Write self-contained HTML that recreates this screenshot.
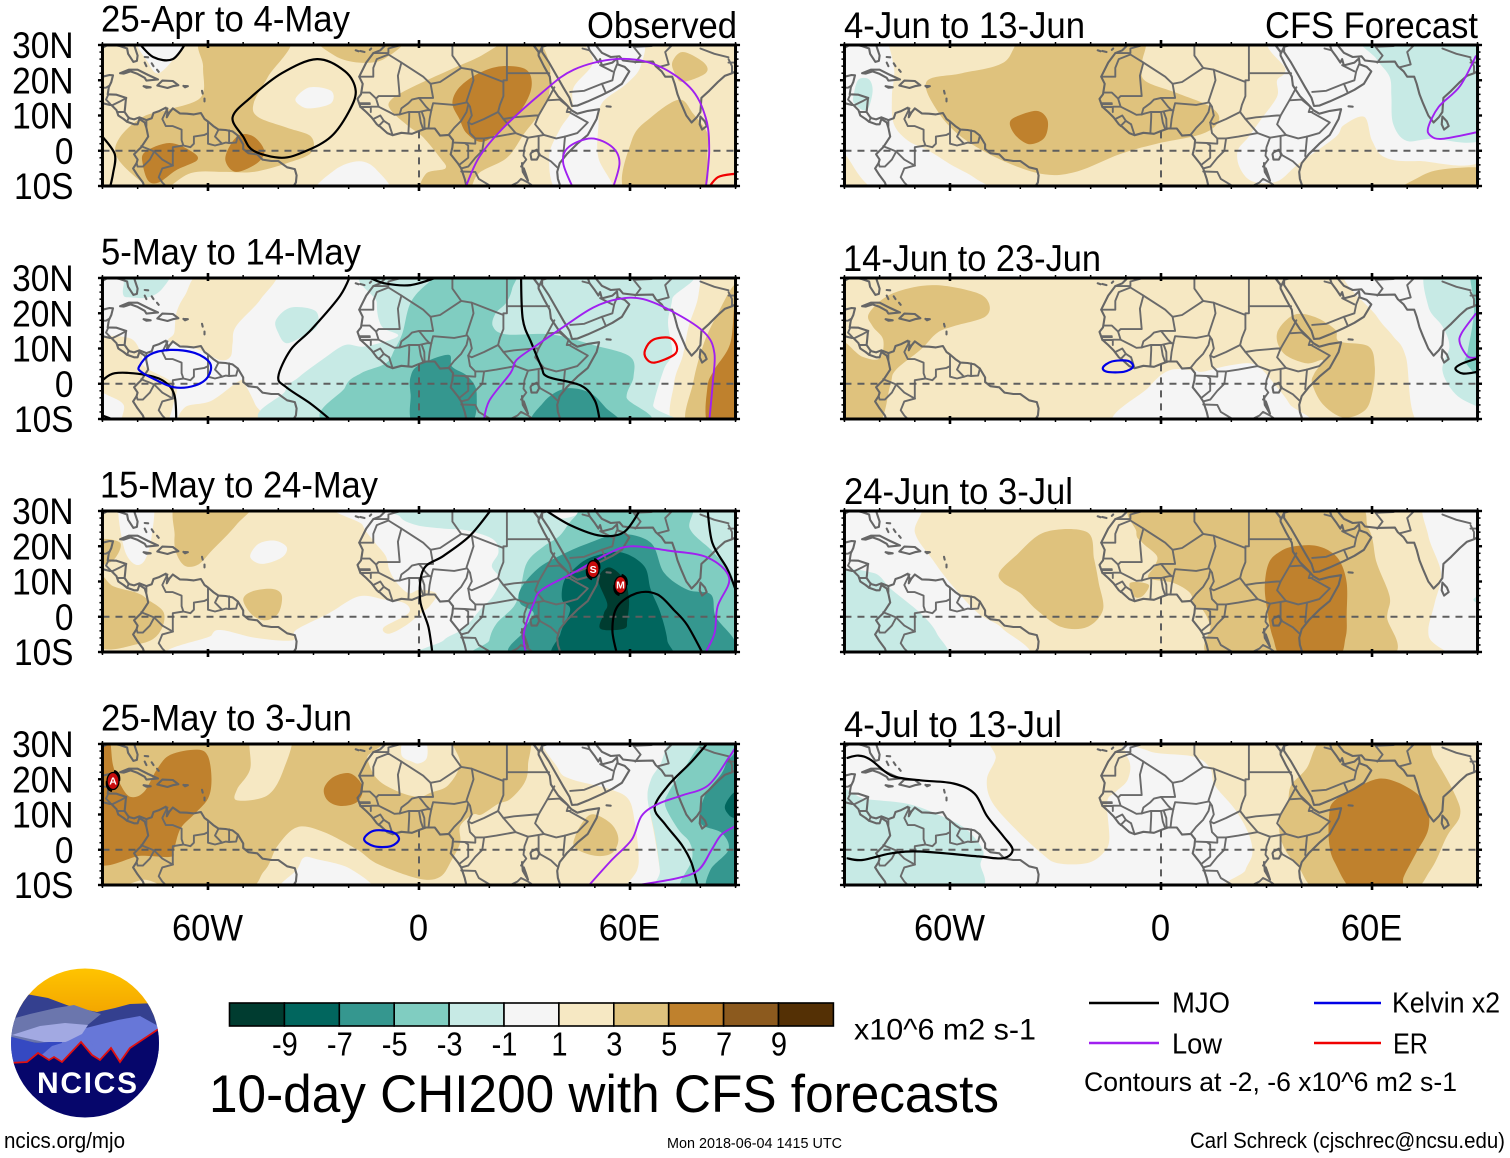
<!DOCTYPE html>
<html lang="en">
<head>
<meta charset="utf-8">
<title>10-day CHI200 with CFS forecasts</title>
<style>
html,body{margin:0;padding:0;background:#fff;width:1510px;height:1158px;overflow:hidden}
svg{display:block}
text{font-family:"Liberation Sans",sans-serif;fill:#000}
</style>
</head>
<body>
<svg id="figure" xmlns="http://www.w3.org/2000/svg" width="1510" height="1158" viewBox="0 0 1510 1158">
  <rect width="1510" height="1158" fill="#fff"/>
  <g id="panels"></g>

  <g font-size="37">
    <text x="101" y="31.5" textLength="249" lengthAdjust="spacingAndGlyphs">25-Apr to 4-May</text>
    <text x="587" y="38" textLength="150" lengthAdjust="spacingAndGlyphs">Observed</text>
    <text x="101" y="264.5" textLength="260" lengthAdjust="spacingAndGlyphs">5-May to 14-May</text>
    <text x="100" y="497.5" textLength="278" lengthAdjust="spacingAndGlyphs">15-May to 24-May</text>
    <text x="101" y="730.5" textLength="251" lengthAdjust="spacingAndGlyphs">25-May to 3-Jun</text>
    <text x="844" y="38" textLength="241" lengthAdjust="spacingAndGlyphs">4-Jun to 13-Jun</text>
    <text x="1265" y="38" textLength="213" lengthAdjust="spacingAndGlyphs">CFS Forecast</text>
    <text x="843" y="271" textLength="258" lengthAdjust="spacingAndGlyphs">14-Jun to 23-Jun</text>
    <text x="844" y="504" textLength="229" lengthAdjust="spacingAndGlyphs">24-Jun to 3-Jul</text>
    <text x="844" y="737" textLength="218" lengthAdjust="spacingAndGlyphs">4-Jul to 13-Jul</text>
  </g>

  <g id="colorbar"></g>
  <text x="854" y="1039.5" font-size="30" textLength="182" lengthAdjust="spacingAndGlyphs">x10^6 m2 s-1</text>
  <text x="209" y="1112" font-size="53" textLength="790" lengthAdjust="spacingAndGlyphs">10-day CHI200 with CFS forecasts</text>

  <g font-size="29">
    <line x1="1089" y1="1003" x2="1159" y2="1003" stroke="#000" stroke-width="2.4"/>
    <text x="1172" y="1012.5" textLength="58" lengthAdjust="spacingAndGlyphs">MJO</text>
    <line x1="1314" y1="1003" x2="1381" y2="1003" stroke="#0000e6" stroke-width="2.4"/>
    <text x="1392" y="1012.5" textLength="108" lengthAdjust="spacingAndGlyphs">Kelvin x2</text>
    <line x1="1089" y1="1043" x2="1159" y2="1043" stroke="#a020f0" stroke-width="2.4"/>
    <text x="1172" y="1053.5" textLength="50" lengthAdjust="spacingAndGlyphs">Low</text>
    <line x1="1314" y1="1043" x2="1381" y2="1043" stroke="#f00000" stroke-width="2.4"/>
    <text x="1393" y="1053.5" textLength="35" lengthAdjust="spacingAndGlyphs">ER</text>
    <text x="1084" y="1091" font-size="27" textLength="373" lengthAdjust="spacingAndGlyphs">Contours at -2, -6 x10^6 m2 s-1</text>
  </g>

  <text x="4" y="1148" font-size="22" textLength="121" lengthAdjust="spacingAndGlyphs">ncics.org/mjo</text>
  <text x="667" y="1148" font-size="15" textLength="175" lengthAdjust="spacingAndGlyphs">Mon 2018-06-04 1415 UTC</text>
  <text x="1190" y="1148" font-size="22" textLength="315" lengthAdjust="spacingAndGlyphs">Carl Schreck (cjschrec@ncsu.edu)</text>

  <g>
    <clipPath id="logo-clip"><ellipse cx="85" cy="1043" rx="74" ry="74.5"/></clipPath>
    <linearGradient id="logo-sky-gradient" x1="0" y1="0" x2="0" y2="1">
      <stop offset="0" stop-color="#ffc400"/>
      <stop offset="1" stop-color="#f2a300"/>
    </linearGradient>
    <g clip-path="url(#logo-clip)">
      <rect x="10" y="968" width="150" height="50" fill="url(#logo-sky-gradient)"/>
      <polygon points="8,1005 26,994 48,998 72,1007 97,1012 115,1008 130,1004 160,1003 160,1070 8,1070" fill="#34408f"/>
      <polygon points="8,1040 8,1020 30,1014 56,1008 74,1005 88,1010 101,1014 84,1028 60,1045" fill="#6b76ad"/>
      <polygon points="40,1050 86,1028 118,1020 140,1016 160,1027 160,1075 40,1075" fill="#6777d8"/>
      <polygon points="8,1036 36,1043 62,1041 60,1070 8,1070" fill="#3549c2"/>
      <polygon points="12,1035 40,1026 65,1023 88,1025 82,1034 66,1042 44,1042" fill="#a2a9e2"/>
      <polygon points="36,1060 52,1046 72,1040 90,1040 100,1062" fill="#6777d8"/>
      <polygon points="8,1063 27,1062 38,1053 49,1060 54,1057 62,1062 81,1042 92,1055 100,1060 111,1048 120,1062 130,1048 160,1028 160,1120 8,1120" fill="#06066b"/>
      <polyline points="8,1063 27,1062 38,1053 49,1060 54,1057 62,1062 81,1042 92,1055 100,1060 111,1048 120,1062 130,1048 160,1028" fill="none" stroke="#e01010" stroke-width="1.8"/>
    </g>
    <text x="37" y="1093" font-size="30" font-weight="bold" textLength="100" lengthAdjust="spacing" style="fill:#fff">NCICS</text>
  </g>
</svg>

<script>
// ---------- colour scale ----------
const colorLabels = ['-9','-7','-5','-3','-1','1','3','5','7','9'];
const levelKeys = [-10,-8,-6,-4,-2,0,2,4,6,8,10];
const levelColors = ['#003c30','#01665e','#35978f','#80cdc1','#c7eae5','#f5f5f5','#f6e8c3','#dfc27d','#bf812d','#8c5a1e','#543005'];

// ---------- axes ----------
const yTickLats = [30,20,10,0,-10];
const yTickLabels = ['30N','20N','10N','0','10S'];
const xTickLons = [-60,0,60];
const xTickLabels = ['60W','0','60E'];

// ---------- map outlines (lon, lat) ----------
const coastLines = [
 [[-90,29.2],[-88,30.3],[-85,29.7],[-83,29],[-82.7,27.5],[-81.2,25.2],[-80.2,25.5],[-80,27],[-81,30],[-81,31]],
 [[-90,21],[-88,21.5],[-87,21.4],[-87.5,19.5],[-88.2,18],[-88.5,16],[-86,15.9],[-83.3,15],[-83.6,12],[-83.7,11],[-82.5,9.3],[-81,8.9],[-79.5,9.5],[-77.5,8.7],[-76,9.2],[-75.5,10.7],[-74,11.2],[-72,12.2],[-71.5,11],[-71.7,9.5],[-71,10.8],[-70,12],[-68,10.6],[-66,10.5],[-64,10.3],[-62,10.7],[-61,9],[-60,8.3],[-58.5,7],[-57,6],[-55,5.9],[-53,5.5],[-51.5,4.3],[-50,1.8],[-50,0.5],[-48.5,-0.7],[-46,-1],[-44.5,-2.5],[-42,-2.9],[-40,-2.9],[-37.5,-4.7],[-35.3,-5.2],[-34.8,-7],[-35,-9],[-36,-10.5],[-36.5,-11]],
 [[-90,13.5],[-88,13],[-87.5,13],[-86,11.5],[-85.5,10],[-84,9],[-83,8.2],[-81,7.5],[-80,7.5],[-79.5,9],[-78,8],[-77.5,6.5],[-77,4],[-78,2.5],[-79,1],[-80,0],[-81,-1],[-80,-2.5],[-80.3,-3.5],[-81.3,-5],[-80,-7],[-78.5,-9],[-77.8,-11]],
 [[-85,22],[-82.5,23],[-80,23],[-77,21.5],[-74.2,20.2],[-77.5,19.9],[-78,20.7],[-80,21.8],[-82,22.5],[-84,21.9],[-85,22]],
 [[-74.4,18.5],[-73,19.9],[-70,19.8],[-68.4,18.6],[-70,18.3],[-71.5,17.8],[-74.4,18.5]],
 [[-78.3,18.3],[-76.3,18],[-77.5,17.9],[-78.3,18.3]],
 [[-67,18.4],[-65.7,18.3],[-66.5,18],[-67,18.4]],
 [[-78,26.6],[-77,26.5]],[[-78,25],[-77.5,24]],[[-76,24.8],[-75.5,24]],[[-74.5,23],[-74,22.4]],
 [[-61.7,17],[-61.5,16.2]],[[-61,14.8],[-61,14]],
 [[-10,31],[-9.5,30],[-11,28.5],[-13,27.7],[-15,25],[-17,21],[-16,19],[-16.5,16],[-17.5,14.7],[-16.7,12.5],[-15,11],[-13.5,9.5],[-12,7.5],[-11,6.8],[-9,5],[-7.5,4.4],[-5,5.1],[-2,4.8],[0,5.6],[2,6.3],[4.5,6.3],[6,4.3],[8.5,4.5],[9.7,3],[9.5,1],[9,-1],[11,-3.5],[12,-5],[13,-8],[13.7,-11]],
 [[32.5,31],[32.5,30],[34,28],[34,27],[35.5,24],[37.2,21],[37.5,18.5],[39.5,15.5],[42,13],[43.3,11.5],[45,10.5],[48,11.3],[51.2,11.8],[50.5,9],[48,4.5],[45,2],[42,-1],[40,-3.5],[39.3,-6],[39.5,-8],[40.5,-11]],
 [[32.5,30],[34.2,27.8],[35,29.5],[35,28],[37,25],[39,21.5],[41,18],[42.8,15],[43.5,12.7],[45,12.8],[48,14],[52,15.8],[55,17.3],[57.7,19],[59.8,22.5],[58.5,23.8],[56.5,24.5],[56.3,26.2],[55,25],[52,24.2],[51.5,26],[51,25],[50,26.5],[48.5,28.5],[48,30],[50,30.2],[52,27.8],[54.5,26.6],[57,26.8],[58,25.6],[61.5,25.2],[66.5,25.3],[67.3,24],[69,22.5],[70,21],[72,21],[72.7,19],[73.5,16],[74.5,13.5],[76,10],[77.5,8],[79,9.5],[80,11],[80.3,15],[82.5,17],[85,19.5],[87,21.3],[89,22],[90,22.5]],
 [[80,9.7],[81.3,8.3],[81.8,7],[80.5,6],[79.8,7.5],[80,9.7]],
 [[53.3,12.6],[54.5,12.5]],
 [[-18,28.5],[-17.2,28.2]],[[-16.7,28.3],[-15.5,28]],[[-14,28.6],[-13.6,29]],
 [[32,-0.5],[33.5,0.3],[34.3,-1],[33.5,-2.5],[32,-2.5],[31.7,-1],[32,-0.5]],
 [[29.3,-3.5],[29.5,-6],[31,-8.5],[30.5,-7],[29.8,-5]]
];
const borderLines = [
 [[-71.5,12],[-72.5,10],[-73,9],[-72,7],[-70,7],[-67.5,6],[-67.5,3],[-67,1.5],[-65,1],[-64,2],[-64,4],[-61,4.5],[-60,5],[-60,8]],
 [[-60,5],[-60,2],[-58,1.5],[-56,2],[-55,2.3],[-54,2.2],[-52,2.3],[-51.5,4.3]],
 [[-57,6],[-58,4],[-56,2]],[[-54,5.8],[-54,2.2]],
 [[-67,1.5],[-70,1],[-70,-4.2]],
 [[-79,1.3],[-77,0.5],[-75.3,-0.2],[-73,-2.5],[-70,-4.2]],
 [[-80.3,-3.5],[-80,-4.5],[-78.5,-4.5],[-76.5,-2.5],[-75.3,-0.2]],
 [[-70,-4.2],[-73,-5],[-74,-7.5],[-73,-9],[-72,-10],[-70.5,-11]],
 [[-77.5,8.7],[-77.5,7]],
 [[-83.7,11],[-85.7,11]],[[-82.5,9.5],[-83,8.2]],
 [[-83.2,15],[-85,14],[-87,13]],[[-88.3,16],[-89,14.5],[-87.8,13.3]],[[-88,18.5],[-89,17.9],[-91,17.9]],
 [[-13,27.7],[-8.7,27.7],[-8.7,29],[-5,30],[-2,31]],
 [[-17,21],[-13,21],[-13,23.5],[-12,26],[-8.7,27.3],[-5,25],[-6,21.3],[-5.5,15.5],[-9,15.5],[-11.5,15.5],[-12.2,14.8],[-14,16.5],[-16,16.5]],
 [[-5,25],[1.2,21],[3.3,19],[6,19.5],[12,23.5],[9.5,27],[9.5,30],[10,31]],
 [[12,23.5],[15,23],[24,19.5],[24,20],[25,20],[25,31]],
 [[25,22],[37,22]],
 [[24,19.5],[24,15.5],[23,13],[22.5,11]],
 [[15,23],[15.5,20],[13.5,14],[14.5,12.5],[15,10],[14,8],[15,7.5],[18.5,9],[22.5,11],[24,9],[27.5,5]],
 [[14,8],[14.5,5],[16,3.5],[18.5,3.5],[22,4],[27.5,5],[31,3.7],[34,4.2],[35.5,4.5]],
 [[24,9],[27,9.5],[33,10],[34,10]],
 [[35.5,4.5],[33,7.5],[34,10],[36.5,14.3],[38.5,18]],
 [[36.5,14.3],[40,14.5],[42.5,12.5],[42,11],[43,11]],
 [[43,10.8],[48,8],[45,5],[41.5,4],[41,-1.5]],
 [[35.5,4.5],[39,3.5],[41.5,4]],
 [[34,4.2],[34,1],[34,-1],[37.5,-3],[39.3,-4.7]],
 [[31,3.7],[30,1],[29.7,-1.4],[30.5,-2.5],[29,-4.5]],
 [[34.5,-11.5],[40.5,-10.5]],
 [[22,-11],[24,-11],[28,-9],[29,-8],[31,-9],[34.5,-11.5]],
 [[12,-5.9],[16,-6],[17,-8],[22,-11]],
 [[12,-5],[14,-4.5],[16,-2],[18,0],[18.5,3.5]],
 [[9.8,2.3],[13,2.2],[14,1.5],[14,-2],[11.5,-4]],
 [[13,2.2],[16,2],[16,3.5]],
 [[8.5,4.6],[10,6.5],[12,8.5],[13.5,11],[14,13]],
 [[3.5,11.5],[4,13.5],[10,13],[13.5,13.7]],
 [[2.7,6.3],[3,9],[3.5,11.5]],
 [[1.6,6.2],[1.5,9],[0.8,11]],
 [[1.2,6.1],[0.5,8],[0,11]],
 [[-3,5],[-2.8,9.5],[-2.8,11]],
 [[-5.5,10.3],[-3,11],[0,11],[2.3,11.5],[3.5,11.5]],
 [[-5.5,10.3],[-5,12],[-3,13.5],[-2,14.5],[0,15],[2,12.5],[3,11.5]],
 [[3.3,19],[4,15],[0,15]],
 [[-12.2,14.8],[-11.5,12.5],[-8.5,11],[-7,10.2],[-5.5,10.3]],
 [[-7.5,4.4],[-8.5,7.5]],
 [[-11.5,7],[-10,8.5],[-8.5,7.5]],
 [[-13,9],[-11,10],[-10,8.5]],
 [[-16.8,13.5],[-14,13.5]],[[-16.8,13.2],[-14,13.2]],
 [[-16.7,12.4],[-13.7,12.4],[-13.7,11]],[[-13.7,12.5],[-11.5,12.5]],
 [[35,29.5],[37,30],[39,32]],
 [[43,16.7],[47,17],[52,19],[55,20],[55.5,22.5],[56.3,24.5]],
 [[53,16.7],[52,19]],
 [[48,30],[47.5,31]],
 [[61.5,25],[63,27],[61,29.5],[61,31]],
 [[68,23.7],[71,24.5],[70,28],[73,31]],
 [[80,29],[84,27.5],[88,26.5]],
 [[88,26],[89,24],[89,22]],[[90,25],[88,25]],
 [[61,29.5],[66,29.7],[70,31]],
 [[46.5,29],[48.5,28.5]],[[51.5,24.3],[55,22.5]]
];

// ---------- CHI200 shading: [level, outline of [lon, lat]] ----------
const shadeP1 = [
 [4,[[-61,32],[-61.4,23.8],[-62,15.2],[-71.7,11.6],[-78.5,9.6],[-85,3.9],[-85.9,-1.8],[-78.5,-9.1],[-72.8,-11],[-64.8,-6.3],[-55.2,-6],[-47,-6],[-37.5,-3.5],[-30.7,-0.6],[-30.7,4],[-37.5,6.5],[-45.8,9.6],[-47,13.5],[-43,20.9],[-37,32]]],
 [4,[[-28,32],[-24,27],[-17,25],[-10,26],[-5,32]]],
 [4,[[-8,14.4],[-2,18],[10,23.5],[17,26.6],[25,31],[33,32],[37,25],[37,16.4],[35,11.5],[30,5],[25,-2],[17,-6.4],[13,-12],[1,-12],[2,-6.5],[7.5,-5],[6,-2],[1,4],[-3,7],[-8,11.5]]],
 [4,[[72,25],[75,28],[81,25],[81.5,22],[75,19.5],[73,21.5]]],
 [4,[[59,-12],[60.5,3],[66,9.5],[74,14.5],[78,10.5],[82,5],[82,0],[80,-12]]],
 [6,[[-78,-0.4],[-71,2.2],[-65,0],[-63,-2.6],[-69,-5.5],[-74,-9],[-77,-8.5],[-78.5,-4]]],
 [6,[[-55,-3],[-54,1],[-51,4.5],[-47,4],[-44,0],[-46,-3.5],[-52,-6]]],
 [6,[[9.5,13.5],[11.5,18],[17,22],[23.5,24],[30.5,23],[32,18],[29,11.5],[23.5,6],[18,2.5],[13.5,5],[11.5,9]]],
 [0,[[-35,15],[-31,18],[-25,17],[-25,13.5],[-31,12],[-34,13]]],
 [0,[[-80,32],[-77,25],[-74,22],[-69,27],[-66,32]]],
 [0,[[-29,-12],[-24,-5.5],[-17,-3],[-12,-5.5],[-9,-12]]],
 [0,[[47.5,32],[49.5,25],[44,18],[43.5,11.5],[40,6],[37,-2],[40,-12],[55,-12],[51,-2],[51,7],[52,13.5],[59,19],[63,24],[63,32]]]
];
const shadeP2 = [
 [2,[[-61,32],[-66.6,25],[-69,20],[-69.6,14.4],[-71,12],[-62.5,9.6],[-56.6,6.7],[-53.6,7.7],[-53,11.5],[-52,16.3],[-45,24],[-41,32]]],
 [2,[[-66.6,-12],[-66.6,-6.7],[-59,-4.8],[-50.7,1],[-49,-1],[-46.6,-5.8],[-44,-12]]],
 [2,[[-92,12],[-82.5,13],[-79,8.7],[-78,4.8],[-69.6,0],[-69.6,-4.8],[-73,-12],[-84,-12],[-84,-6],[-89,-3],[-92,-1]]],
 [2,[[82,33],[79,23],[76.6,16],[75,8],[72.5,0],[73,-12],[93,-12],[93,33]]],
 [4,[[89.6,28],[85,20],[81,11.5],[78,0.5],[76.6,-12],[93,-12],[93,28]]],
 [6,[[90,24],[88.5,11.5],[84,4],[82,-1],[82.5,-12],[93,-12],[93,24]]],
 [-2,[[-84,25],[-84,28],[-82.5,32],[-71,32],[-73,27],[-77,24.5],[-82,24.5]]],
 [-2,[[-40.7,18],[-36.5,21.6],[-29.5,20.7],[-29,16.3],[-33,13.5],[-37.7,11.5],[-40,14.4]]],
 [-2,[[-10.6,33],[-12,23],[-10.6,16.3],[-6,13.5],[-15.3,10.6],[-21,11],[-27,7.2],[-34,2],[-38,-2],[-38,-12],[66,-12],[66.6,-6],[69.6,4],[72,8.7],[70.8,17.3],[72,24],[72.5,33]]],
 [-4,[[27,33],[26.5,27],[24.8,23],[21.8,20],[21,16.3],[24.8,14],[37.7,14],[49.5,11],[60,7.7],[61,2],[59,-3.8],[60.7,-12],[-22.4,-12],[-21,-1],[-16.5,3],[-9.4,5.8],[-7,9.6],[-4.7,14.4],[-2.4,23],[2.4,28.4],[9.4,33]]],
 [-6,[[-2.4,2],[0,5.3],[8.3,8.2],[9.4,4.8],[14,2],[16.4,-2.9],[14,-12],[-1,-12],[-2.4,-3]]],
 [-6,[[33,-12],[35.4,-5.3],[41.3,-1.4],[48.3,-2.4],[53,-6.7],[56.6,-12]]]
];
const shadeP3 = [
 [0,[[-85,33],[-84,20],[-81,15],[-78,16],[-76,23],[-76,33]]],
 [0,[[-48,17],[-45.6,20.7],[-41,21.6],[-37.6,19.7],[-39,16.8],[-44.6,15]]],
 [0,[[-61,-12],[-59,-5.3],[-56,-3.8],[-46.4,-6],[-36,-6.7],[-35,-3.8],[-25.6,1],[-17,5.8],[-9.5,4.8],[-4,3.8],[-3,1],[-10,-3],[-8.5,-4.8],[-3.8,-2.5],[0.5,1],[3,3],[5,6.5],[0.3,7.7],[-3,6.7],[-6.6,10],[-8.5,13.5],[-9.5,17.3],[-13,21.6],[-16,26],[-17.5,33],[93,33],[93,-12]]],
 [4,[[-68,33],[-47.4,33],[-52,26],[-58.7,19],[-62.6,14.9],[-66.5,14.4],[-69,18],[-69.5,23]]],
 [4,[[-50,4.8],[-47.4,7.2],[-41.7,7.9],[-39,6],[-40,1],[-43.6,-1],[-47.4,0.5]]],
 [4,[[-92,12],[-87,8.7],[-80,6.7],[-77,4.8],[-72.5,1],[-74,-4.8],[-79.6,-7.7],[-92,-7.7]]],
 [4,[[-92,21.6],[-85,21],[-87,16],[-92,15]]],
 [-2,[[-5,33],[-5.4,28.4],[-0.7,26],[7,25],[13.6,24.5],[21,22],[22.6,18.3],[20.7,14.4],[23,10.6],[21,5.8],[17.4,2],[12.6,-3.4],[7,-6.7],[5,-12],[93,-12],[93,33]]],
 [0,[[35.5,32],[39,28],[45,29],[46,32]]],
 [-4,[[20,-12],[20,-6.7],[22,-2],[27,3],[28.8,7.7],[30.7,15.4],[35.5,20],[40,23],[44,28],[50.7,33],[76.3,33],[77,25],[83,19],[88,13.5],[90,9.6],[93,9],[93,-12]]],
 [-6,[[28.8,7.7],[33.6,13.5],[40,17.3],[47.8,20.7],[57,23.5],[65.9,21],[69.7,12.5],[76.3,7.7],[83,6.3],[84.4,0],[89.7,-6.7],[89.7,-12],[29.7,-12],[30,-3.8],[32.6,1],[28.8,3.8]]],
 [-8,[[39.7,-12],[40.2,-4.8],[43,2],[40.7,4.8],[41.2,10],[44,13.5],[48.8,16.8],[57.3,18.3],[64,14.4],[65.9,7.7],[68.7,1],[70.6,-6.7],[70,-12]]],
 [-10,[[51,10.6],[54,14],[58.3,10.6],[59.7,4.8],[59.2,-1],[58.3,-3.4],[51.6,-3.4],[52.6,1],[53.5,3.8]]]
];
const shadeP4 = [
 [4,[[-93,33],[-15,33],[-14.7,26],[-11.8,20],[-5.7,16.4],[0,15],[3.6,16.3],[8.3,18.3],[11.7,24.5],[10.2,33],[30,33],[31,24],[30,19],[26,14.4],[22.5,13],[17.8,10],[15.4,10],[11.7,6.7],[11.7,2],[9.3,-2.9],[6,-7.7],[0,-8.2],[-11.8,-4],[-17.5,0],[-27,5],[-34.6,6.4],[-40.3,1],[-44,-6],[-52.6,-12],[-93,-12]]],
 [2,[[-47.4,33],[-36.5,33],[-38.4,23],[-43,15.5],[-51.7,14],[-51.7,17.2],[-48,23]]],
 [0,[[-5,27],[-2,25],[0,24.5],[2.2,26],[2.2,30],[0,33],[-4,33]]],
 [6,[[-93,33],[-88.4,33],[-87,24],[-84.8,18.3],[-82,15],[-78.2,16.4],[-74.4,23],[-70.6,27],[-63,28.4],[-60,26.5],[-59,20],[-60,14.5],[-64,10],[-67.8,6],[-69.7,0],[-70.6,-2],[-79,-1.7],[-93,-2]]],
 [6,[[-27,17.4],[-24.2,20.7],[-19.4,21.6],[-16,17.8],[-17.5,13.6],[-22.3,12.4],[-26,14]]],
 [0,[[-39,-12],[-34.6,-5.5],[-32.7,-2.2],[-29,-2.7],[-19.4,-5.5],[-13.7,-12]]],
 [2,[[-84,-11],[-78,-8.5],[-73,-11]]],
 [0,[[37.3,33],[39.6,23],[43.4,20],[53.9,17.3],[59.5,14.4],[61.4,7.7],[62.4,-1],[62,-5.8],[58.6,-12],[69,-12],[68.5,-5.8],[67,3.8],[65,15.4],[67,20],[74,33]]],
 [-2,[[74,33],[68.5,24],[66,20],[65,14.4],[67,4.8],[68.5,-5.8],[68.5,-12],[93,-12],[93,33]]],
 [-4,[[83,33],[74.7,22],[71,16.3],[70,12.5],[73.7,5.8],[77,2],[77.6,-2.9],[74.7,-12],[93,-12],[93,33]]],
 [-6,[[88.4,26],[86,21.6],[81.3,15.4],[80,7.7],[86,4.8],[88,0],[82.8,-5.8],[82.3,-12],[93,-12],[93,26]]],
 [-8,[[89.7,16.3],[87,12.5],[88,10],[89.7,9],[93,9],[93,16]]],
 [4,[[44.4,3.8],[47.2,8.7],[50,10],[54.8,7.2],[56.7,2.9],[54.8,-1],[50,-1.7],[44.4,0.5]]]
];
const shadeP5 = [
 [0,[[-93,33],[-80,33],[-76,24],[-76.5,15.4],[-76,7.7],[-72,2.9],[-66,0],[-60,-3.8],[-53,-7.7],[-49.5,-12],[-79,-12],[-90,-1],[-93,-1]]],
 [-2,[[-87.3,16.3],[-86,20.2],[-83,20.2],[-82,16.8],[-83.7,11.5],[-87.3,13.5]]],
 [4,[[-66.6,19.7],[-56.6,22],[-44.8,25],[-36.6,33],[-7,33],[-5.3,25],[-4.7,20],[4.7,16.3],[14,12.5],[16.5,8.7],[11.8,4.8],[-1.2,2],[-11.8,-1],[-23.6,-5.8],[-33,-6.7],[-44.8,-2.9],[-56.6,3.8],[-63.7,11.5]]],
 [6,[[-43,7.7],[-41.3,9.6],[-35.4,11.3],[-32.4,9.1],[-32.4,5.3],[-34,2.9],[-37.7,1.9],[-41.3,4.3]]],
 [0,[[34,33],[35.4,23],[33,20],[33,15.4],[28.3,8.7],[24.8,3.8],[21.8,0],[22.4,-4.8],[26,-8.7],[33,-8.7],[39,-3.8],[49.5,3.8],[51.9,7.2],[57.8,9.6],[60,2.9],[63.7,-1.9],[73,-2.9],[93,-1],[93,33]]],
 [-2,[[57.8,33],[61.3,26],[65,21],[65.5,15.4],[66,7.7],[69.6,2.9],[76.6,3.4],[93,4.8],[93,33]]],
 [4,[[68.4,-12],[73,-7.7],[80,-5.3],[93,-5.3],[93,-12]]]
];
const shadeP6 = [
 [4,[[-83,20],[-76.6,25.5],[-65,28],[-53,26],[-49,23],[-50,19],[-59,16.3],[-63.7,14.4],[-68.4,9.6],[-75.5,3.8],[-77,-0.5],[-80.8,-12],[-93,-12],[-93,12],[-85,7.7],[-80,7.2],[-79,12.5],[-82,16.3]]],
 [4,[[33,14.4],[37.7,19.5],[43.6,19],[49.5,15.4],[50.7,12],[59,10.6],[60.8,4.8],[60,-2.9],[57.8,-7.7],[51.9,-9.6],[46,-5.8],[43,0],[43.6,2.9],[46,6.7],[41.3,5.8],[34.8,8.7]]],
 [0,[[-11.8,-12],[-3.5,-1],[2.4,3.8],[9.4,3.8],[11.8,3.4],[20,5.3],[27,5.3],[33,-1],[36.6,-5.8],[40,-12]]],
 [0,[[53,33],[61.3,19.2],[66,13.5],[69.6,7.7],[73.7,-12],[93,-12],[93,33]]],
 [-2,[[76,33],[76,22],[80,16.3],[82,10.6],[80,3.8],[83.7,-2.9],[89.6,-6.3],[93,-7],[93,33]]],
 [-4,[[87.9,33],[89,21],[87.3,9.6],[86.7,5.8],[93,3],[93,33]]]
];
const shadeP7 = [
 [0,[[-93,33],[-69,33],[-70,24],[-65,16.3],[-60,9.6],[-52,1],[-45,-3.4],[-40,-12],[-93,-12]]],
 [-2,[[-93,11],[-82,12.5],[-76.6,7.7],[-68.4,1],[-63.7,-4.8],[-62.5,-12],[-93,-12]]],
 [4,[[-46,12.5],[-41.3,17.3],[-33,24],[-21,24],[-19,16.3],[-17.7,9.6],[-16.5,2],[-21,-2.9],[-28.3,-2.9],[-35.4,2],[-40,6.7],[-44.8,9.6]]],
 [4,[[-4.7,33],[-7,24],[-5.3,21],[-1.2,17.3],[-1.8,14.4],[-3.5,11],[3.5,9.6],[8.3,6.7],[9.4,3],[11.8,2],[14,-2.4],[16.5,-12],[63.7,-12],[64.3,0],[65,5.8],[61.3,15.4],[59,25],[50.7,33]]],
 [4,[[-8.8,9.6],[-3.5,9.1],[-5.3,5.8],[-7.7,5.8]]],
 [6,[[29.5,8.7],[30.7,15.4],[34,18.6],[38,20],[43.6,20.2],[48,18.6],[51,15.5],[52.8,9.6],[52.8,1],[52.5,-5.8],[49.5,-12],[35.4,-12],[31.8,-5.8],[30.2,2]]],
 [0,[[75.5,33],[76,23],[79.6,12.5],[77.8,3.8],[76,-3.8],[77.8,-7.7],[86,-12],[93,-12],[93,33]]],
 [-2,[[93,7],[88.8,4.8],[93,3]]]
];
const shadeP8 = [
 [-2,[[-93,16],[-84,14.4],[-72,13],[-62.5,9.6],[-55.4,5.8],[-50.7,0],[-51.3,-3.8],[-53.7,-12],[-93,-12]]],
 [2,[[-47,33],[-16.5,33],[-9.4,26],[-9.4,20],[-13,16.3],[-15.3,13.5],[-14.7,2.9],[-16.5,-1],[-21,-3.8],[-29.5,-3.8],[-34,-1],[-41.3,5.8],[-48,13.5],[-49.5,20],[-47,26]]],
 [2,[[-4.7,33],[-3.5,28],[9.4,26.4],[14,23],[15.3,18.3],[21,11.5],[24.8,4.8],[26,-1],[24,-5.8],[22.4,-12],[93,-12],[93,33]]],
 [4,[[48.3,33],[73,33],[77.8,26],[83.7,15.4],[85,9.6],[81.3,3.8],[76.6,-5.8],[69.6,-12],[46,-12],[39,-4.8],[34.8,1],[33.6,7.7],[36,13.5],[37,18.3],[41.3,23]]],
 [6,[[48.9,13.5],[54.2,16.8],[62.5,20.2],[70.8,17.3],[75.5,12.5],[76,5.8],[72.5,-1],[69,-7.7],[67.8,-12],[55.4,-12],[49.5,-3.8],[47.8,2],[47.8,9.6]]]
];

// ---------- wave contours: [wave type, closed?, path of [lon, lat]] ----------
const linesP1 = [
 ['mjo',1,[[-29,26],[-21,22.5],[-18,17],[-20,11],[-25,4],[-32,0],[-39,-2],[-47,0],[-50,4],[-53,9.5],[-48,15],[-39,22]]],
 ['mjo',0,[[-80,31],[-75.6,26.6],[-70,26],[-66,31]]],
 ['mjo',0,[[-90,4],[-86.5,-1],[-87,-6.5],[-88,-11]]],
 ['low',0,[[13,-11],[17,-2],[23.5,6],[35,16.5],[44,23],[56,26],[67,24.5],[77,18],[81.5,9.5],[82.5,0],[81.5,-11]]],
 ['low',0,[[44,-11],[41,-3.5],[42.5,1],[49,3.5],[55,1],[57,-3.5],[55,-11]]],
 ['er',0,[[82,-11],[85,-7.5],[90,-6.5]]]
];
const linesP2 = [
 ['mjo',0,[[-19,32],[-22.4,25],[-30.6,15.4],[-36.5,9.6],[-40,2],[-37.7,-1],[-30.6,-5.8],[-24.8,-10.5]]],
 ['mjo',0,[[-14,30],[-9.4,28.4],[-2.4,28],[4.7,30]]],
 ['mjo',0,[[29,31],[29.5,18.3],[32,11.5],[34.8,4.8],[36.6,2],[46,-0.5],[50,-4.8],[51.5,-11]]],
 ['mjo',0,[[-90,1],[-86.5,3],[-79,2.7],[-73,1],[-69.6,-3],[-69,-11]]],
 ['mjo',0,[[-90,-9],[-86,-10.5]]],
 ['kelvin',1,[[-79.6,4.8],[-76.6,8.2],[-70.7,9.6],[-63.7,8.7],[-59.4,5.8],[-60,2],[-63.7,-0.5],[-69.6,-1],[-75.5,1.4],[-79,3.4]]],
 ['low',0,[[18.3,-11],[20,-4.8],[26,3],[27.7,6.7],[33,10.6],[41.3,16.3],[49.5,21.6],[56.6,24],[63.7,24],[73,20],[81.3,14.4],[84,8.7],[83.5,0],[82.5,-11]]],
 ['er',1,[[64.3,9.6],[66.6,12.5],[71.3,13],[73.3,10.6],[72.5,8.2],[67,6],[64.6,7.2]]]
];
const linesP3 = [
 ['mjo',0,[[21,31],[14.5,23],[7,17.3],[1.3,13.5],[0.3,4.8],[2.7,-3],[3.9,-11]]],
 ['mjo',0,[[35.5,30.5],[43,26],[51.6,23],[58.3,24],[63,30.5]]],
 ['mjo',0,[[82,31],[83.4,21],[87.7,13.5],[90,7.7]]],
 ['mjo',0,[[56.4,-11],[55,-3.8],[56.4,2.9],[62,6.7],[67.8,6.3],[72.5,1.9],[76.3,-2.4],[81,-11]]],
 ['low',0,[[30.5,-11],[29.8,-4.8],[32.6,3.8],[35,7.7],[44,12.5],[53.5,17.8],[60.2,20],[70.6,18.8],[82,16.8],[88.2,11],[84.9,2.9],[84,-4.8],[81,-11]]]
];
const linesP4 = [
 ['mjo',0,[[82.7,31],[77.5,25],[70.9,18.3],[67,12],[70,7.2],[74.7,1.4],[77.5,-3.8],[79.4,-11]]],
 ['low',0,[[47.5,-11],[54.8,-2.9],[60.5,2.9],[63.3,9.6],[68,13],[74.7,15.4],[82.3,18.3],[88,26],[90,29]]],
 ['low',0,[[59,-10.5],[72.8,-8.2],[79.4,-5.8],[83.2,0],[86,4.3],[90,6.7]]],
 ['kelvin',1,[[-15.6,3],[-12.8,5.4],[-7.6,5],[-5.7,3],[-8,1],[-12.8,1]]]
];
const linesP5 = [
 ['low',0,[[89.6,27],[85,18.3],[79,12.5],[76,6.7],[76.6,4.3],[80,3.4],[90,5.3]]]
];
const linesP6 = [
 ['low',0,[[89.6,20],[85.5,14.4],[85,11.5],[87.3,7.7],[90,7.5]]],
 ['mjo',0,[[90,7.2],[85.8,5.8],[83.7,4.3],[85.8,2.9],[90,3.4]]],
 ['kelvin',1,[[-16.5,4.6],[-14,6.3],[-9.4,6.5],[-8,4.8],[-10.6,3.4],[-15.3,3.4]]]
];
const linesP7 = [];
const linesP8 = [
 ['mjo',0,[[-89.4,26],[-86,26.7],[-82.5,25.5],[-76.6,21],[-68.4,19.7],[-59,18.8],[-53,15.9],[-49.5,9.6],[-44.8,3.8],[-42.2,0],[-44.8,-2.4],[-51.9,-1.9],[-68.4,-0.5],[-76.6,-1],[-84.9,-2.9],[-89.4,-2.4]]]
];

// ---------- tropical cyclone markers: [panel index, lon, lat, letter] ----------
const stormMarks = [[2,49.5,13.5,'S'],[2,57.3,9,'M'],[3,-87,19.5,'A']];

// ---------- panel wiring ----------
const panelColumns = [0,0,0,0,1,1,1,1];
const panelRows = [0,1,2,3,0,1,2,3];
const panelBackgrounds = [2,0,2,2,2,2,2,0];
const panelShades = [shadeP1,shadeP2,shadeP3,shadeP4,shadeP5,shadeP6,shadeP7,shadeP8];
const panelLines = [linesP1,linesP2,linesP3,linesP4,linesP5,linesP6,linesP7,linesP8];
const waveColors = {mjo:'#000000',low:'#a020f0',kelvin:'#0000e6',er:'#f00000'};

// ---------- axis functions ----------
const NS = 'http://www.w3.org/2000/svg';
const columnOrigins = [419,1161];
const rowTops = [45,278,511,744];
const degX = 3.517, degY = 3.525;
function xOf(col, lon){ return columnOrigins[col] + lon*degX; }
function yOf(row, lat){ return rowTops[row] + (30-lat)*degY; }

function mk(parent, tag, attrs){
  const el = document.createElementNS(NS, tag);
  for (const k in attrs) el.setAttribute(k, attrs[k]);
  parent.appendChild(el);
  return el;
}
function smoothPath(pts, closed){
  const n = pts.length;
  const at = i => closed ? pts[(i+n)%n] : pts[Math.max(0,Math.min(n-1,i))];
  let d = 'M'+pts[0][0].toFixed(1)+' '+pts[0][1].toFixed(1);
  const last = closed ? n : n-1;
  for (let i=0;i<last;i++){
    const p0=at(i-1),p1=at(i),p2=at(i+1),p3=at(i+2);
    const c1x=p1[0]+(p2[0]-p0[0])/6, c1y=p1[1]+(p2[1]-p0[1])/6;
    const c2x=p2[0]-(p3[0]-p1[0])/6, c2y=p2[1]-(p3[1]-p1[1])/6;
    d+='C'+c1x.toFixed(1)+' '+c1y.toFixed(1)+' '+c2x.toFixed(1)+' '+c2y.toFixed(1)+' '+p2[0].toFixed(1)+' '+p2[1].toFixed(1);
  }
  return d+(closed?'Z':'');
}
function straightPath(pts){
  return 'M'+pts.map(p=>p[0].toFixed(1)+' '+p[1].toFixed(1)).join('L');
}
function colorFor(level){ return levelColors[levelKeys.indexOf(level)]; }

const panelLayer = document.getElementById('panels');

panelShades.forEach(function(shades, idx){
  const col = panelColumns[idx], row = panelRows[idx];
  const left = xOf(col,-90), right = xOf(col,90), top = yOf(row,30), bottom = yOf(row,-10);
  const toPx = p => [xOf(col,p[0]), yOf(row,p[1])];

  const group = mk(panelLayer,'g',{});
  
  

  const clip = mk(group,'clipPath',{id:'clip-'+idx});
  mk(clip,'rect',{x:left,y:top,width:right-left,height:bottom-top});
  const body = mk(group,'g',{'clip-path':'url(#clip-'+idx+')'});

  const bg = mk(body,'rect',{x:left,y:top,width:right-left,height:bottom-top,fill:colorFor(panelBackgrounds[idx])});
  
  

  shades.forEach(function(s){
    const region = mk(body,'path',{d:smoothPath(s[1].map(toPx),true),fill:colorFor(s[0])});
    
    
  });

  borderLines.forEach(function(line){
    const b = mk(body,'path',{d:straightPath(line.map(toPx)),fill:'none',stroke:'#6a6a6a','stroke-width':1.9,'stroke-linejoin':'round','stroke-linecap':'round'});
    
    
  });
  coastLines.forEach(function(line){
    const c = mk(body,'path',{d:straightPath(line.map(toPx)),fill:'none',stroke:'#666','stroke-width':2.1,'stroke-linejoin':'round','stroke-linecap':'round'});
    
    
  });

  const equator = mk(body,'line',{x1:left,x2:right,y1:yOf(row,0),y2:yOf(row,0),stroke:'#5e5e5e','stroke-width':2,'stroke-dasharray':'7 6'});
  
  
  const meridian = mk(body,'line',{x1:xOf(col,0),x2:xOf(col,0),y1:yOf(row,5.5),y2:bottom,stroke:'#5e5e5e','stroke-width':2,'stroke-dasharray':'7 6'});
  
  

  panelLines[idx].forEach(function(l){
    const contour = mk(body,'path',{d:smoothPath(l[2].map(toPx),!!l[1]),fill:'none',stroke:waveColors[l[0]],'stroke-width':l[0]==='low'?1.9:2.2});
    
    
  });

  const frame = mk(group,'rect',{x:left,y:top,width:right-left,height:bottom-top,fill:'none',stroke:'#000','stroke-width':3});
  
  

  // ticks on all four sides
  const ticks = mk(group,'g',{stroke:'#000'});
  
  
  for (let lon=-90; lon<=90; lon+=10){
    const major = (lon % 60 === 0);
    const x = xOf(col,lon), out = major?5:3, inn = major?3:0, w = major?2.6:1.5;
    mk(ticks,'line',{x1:x,x2:x,y1:top-out,y2:top+inn,'stroke-width':w});
    mk(ticks,'line',{x1:x,x2:x,y1:bottom-inn,y2:bottom+out,'stroke-width':w});
  }
  for (let lat=-10; lat<=30; lat+=2){
    const major = (lat % 10 === 0);
    const y = yOf(row,lat), out = major?4.5:3, w = major?2.4:1.5;
    mk(ticks,'line',{x1:left-out,x2:left,y1:y,y2:y,'stroke-width':w});
    mk(ticks,'line',{x1:right,x2:right+out,y1:y,y2:y,'stroke-width':w});
  }

  // latitude labels only on the left column
  if (col === 0){
    yTickLats.forEach(function(lat,i){
      const t = mk(group,'text',{transform:'translate(73.5,'+(yOf(row,lat)+13)+') scale(.905,1)','text-anchor':'end','font-size':37});
      
      
      t.textContent = yTickLabels[i];
    });
  }
  // longitude labels under the bottom row
  if (row === 3){
    xTickLons.forEach(function(lon,i){
      const t = mk(group,'text',{transform:'translate('+(xOf(col,lon)-0.5)+',940.5) scale(.935,1)','text-anchor':'middle','font-size':37});
      
      
      t.textContent = xTickLabels[i];
    });
  }
});

// cyclone markers
stormMarks.forEach(function(s){
  const col = panelColumns[s[0]], row = panelRows[s[0]];
  const cx = xOf(col,s[1]), cy = yOf(row,s[2]);
  const g = mk(panelLayer,'g',{});
  
  
  mk(g,'path',{d:'M'+(cx+1)+' '+(cy-10)+'Q'+(cx+7)+' '+(cy-8)+' '+(cx+6)+' '+cy,fill:'none',stroke:'#000','stroke-width':2.4});
  mk(g,'path',{d:'M'+(cx-1)+' '+(cy+10)+'Q'+(cx-7)+' '+(cy+8)+' '+(cx-6)+' '+cy,fill:'none',stroke:'#000','stroke-width':2.4});
  mk(g,'ellipse',{cx:cx,cy:cy,rx:6,ry:8.5,fill:'#c80c0c',stroke:'#000','stroke-width':1.3});
  const t = mk(g,'text',{x:cx,y:cy+3.6,'text-anchor':'middle','font-size':10.5,'font-weight':'bold',style:'fill:#fff'});
  
  
  t.textContent = s[3];
});

// colour bar
const barLayer = document.getElementById('colorbar');
const barLeft = 229.5, boxWidth = 54.9, barTop = 1003, barHeight = 23;
levelColors.forEach(function(color,i){
  const box = mk(barLayer,'rect',{x:barLeft+i*boxWidth,y:barTop,width:boxWidth,height:barHeight,fill:color,stroke:'#000','stroke-width':1.6});
  
  
});
colorLabels.forEach(function(label,i){
  const t = mk(barLayer,'text',{transform:'translate('+(barLeft+(i+1)*boxWidth+0.5)+',1055.5) scale(.88,1)','text-anchor':'middle','font-size':33});
  
  
  t.textContent = label;
});
</script>
</body>
</html>
